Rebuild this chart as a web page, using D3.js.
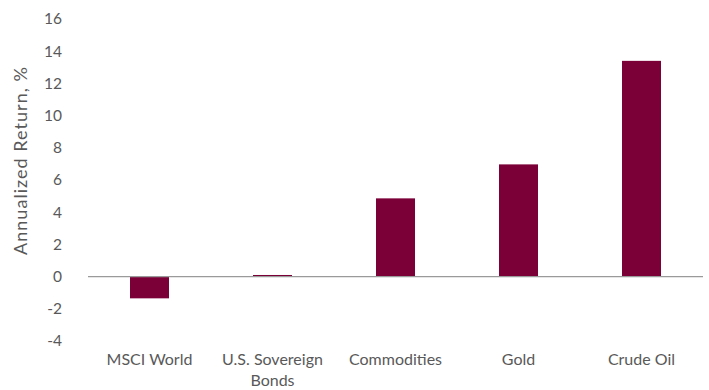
<!DOCTYPE html>
<html>
<head>
<meta charset="utf-8">
<script src="https://cdn.jsdelivr.net/npm/d3@7"></script>
<style>
  html, body { margin: 0; padding: 0; background: #fff; }
  svg text { font-family: Lato, "Open Sans", sans-serif; fill: #595959; }
</style>
</head>
<body>
<svg id="chart" width="709" height="390"></svg>
<script>
const categories = ["MSCI World", "U.S. Sovereign Bonds", "Commodities", "Gold", "Crude Oil"];
const categoryLines = [["MSCI World"], ["U.S. Sovereign", "Bonds"], ["Commodities"], ["Gold"], ["Crude Oil"]];
const returns = [-1.35, 0.1, 4.86, 6.97, 13.4];
const yTicks = [-4, -2, 0, 2, 4, 6, 8, 10, 12, 14, 16];
const yTitle = "Annualized Return, %";

const svg = d3.select("#chart");
const plotLeft = 88, plotRight = 703, plotTop = 19, plotBottom = 341;

const x = d3.scaleBand().domain(categories).range([plotLeft, plotRight])
  .paddingInner(0.683).paddingOuter(0.3415);
const y = d3.scaleLinear().domain([-4, 16]).range([plotBottom, plotTop]);

// y axis labels
const yAxis = d3.axisLeft(y).tickValues(yTicks).tickSize(0).tickPadding(0).tickFormat(d => String(d));
const gy = svg.append("g").attr("transform", `translate(${62},0)`).call(yAxis);
gy.select(".domain").remove();
gy.selectAll("text").style("font-size", "15.5px").attr("fill", "#595959");

// bars
svg.append("g").selectAll("rect").data(returns).join("rect")
  .attr("x", (d, i) => x(categories[i]))
  .attr("width", x.bandwidth())
  .attr("y", d => y(Math.max(0, d)))
  .attr("height", d => Math.abs(y(d) - y(0)))
  .attr("fill", "#7B0038");

// zero line
svg.append("line")
  .attr("x1", plotLeft).attr("x2", plotRight)
  .attr("y1", y(0)).attr("y2", y(0))
  .attr("stroke", "#9a9a9a").attr("stroke-width", 1.3);

// category labels
const gx = svg.append("g");
categories.forEach((c, i) => {
  const t = gx.append("text")
    .attr("x", x(c) + x.bandwidth() / 2)
    .attr("y", 365)
    .attr("text-anchor", "middle")
    .style("font-size", "16px");
  categoryLines[i].forEach((line, j) => {
    t.append("tspan").attr("x", x(c) + x.bandwidth() / 2).attr("dy", j === 0 ? 0 : 21).text(line);
  });
});

// y title
svg.append("text")
  .attr("transform", `translate(27, 161) rotate(-90)`)
  .attr("text-anchor", "middle")
  .attr("textLength", 188)
  .attr("lengthAdjust", "spacing")
  .style("font-size", "18px")
  .text(yTitle);
</script>
</body>
</html>
